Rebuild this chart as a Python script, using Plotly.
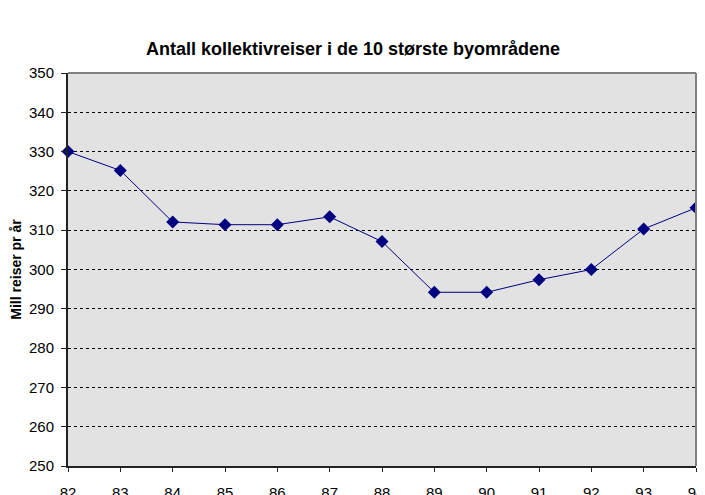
import plotly.graph_objects as go

years = ["82", "83", "84", "85", "86", "87", "88", "89", "90", "91", "92", "93", "94"]
trips = [330.0, 325.2, 312.1, 311.4, 311.4, 313.4, 307.1, 294.2, 294.2, 297.4, 300.0, 310.3, 315.7]
y_ticks = [250, 260, 270, 280, 290, 300, 310, 320, 330, 340, 350]

x_pos = list(range(len(years)))

W, H = 705, 495

fig = go.Figure()
fig.add_trace(go.Scatter(
    x=x_pos, y=trips, mode="lines+markers",
    line=dict(color="#000080", width=1),
    marker=dict(symbol="diamond", size=10, color="#000080"),
    cliponaxis=False,
))

fig.update_layout(
    width=W, height=H,
    margin=dict(l=60, r=17, t=65, b=37, autoexpand=False),
    paper_bgcolor="white",
    plot_bgcolor="#e2e2e2",
    showlegend=False,
    font=dict(family="Arial, Liberation Sans, sans-serif", color="black"),
    title=dict(text="<b>Antall kollektivreiser i de 10 største byområdene</b>",
               x=345 / W, xanchor="center", y=1 - 41 / H, yanchor="middle",
               font=dict(size=18)),
)
fig.update_xaxes(
    range=[0, len(years) - 1],
    tickmode="array", tickvals=x_pos, ticktext=years,
    ticks="outside", ticklen=4, tickcolor="#222", tickwidth=1,
    showline=True, linecolor="#222", linewidth=2,
    showgrid=False, zeroline=False, automargin=False,
    tickfont=dict(size=15), ticklabelstandoff=8,
)
fig.update_yaxes(
    range=[250, 350],
    tickmode="array", tickvals=y_ticks,
    ticks="outside", ticklen=5, tickcolor="#222", tickwidth=1,
    showline=True, linecolor="#222", linewidth=2,
    showgrid=True, gridcolor="black", gridwidth=1, griddash="dot",
    zeroline=False, automargin=False,
    tickfont=dict(size=15), ticklabelstandoff=4,
    title=dict(text="<b>Mill reiser pr år</b>", font=dict(size=14), standoff=8),
)
# top and right border of plot area
fig.add_shape(type="line", xref="paper", yref="paper", x0=0, x1=1, y0=1, y1=1,
              line=dict(color="#808080", width=2), layer="below")
fig.add_shape(type="line", xref="paper", yref="paper", x0=1, x1=1, y0=0, y1=1,
              line=dict(color="#808080", width=2))

fig.write_html("out.html")
